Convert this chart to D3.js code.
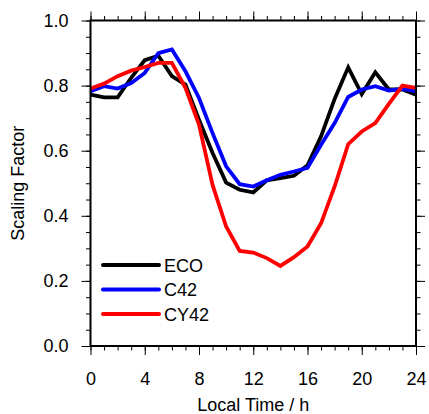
<!DOCTYPE html>
<html>
<head>
<meta charset="utf-8">
<script src="https://cdn.jsdelivr.net/npm/d3@7"></script>
<style>
  html, body { margin: 0; padding: 0; background: #fff; }
  svg { display: block; }
  text { font-family: "Liberation Sans", Arial, Helvetica, sans-serif; fill: #000; }
</style>
</head>
<body>
<svg id="chart" width="429" height="414"></svg>
<script>
// Hourly scaling factors (local time 0..24 h)
const hours = d3.range(0, 25);
const eco  = [0.772, 0.764, 0.764, 0.824, 0.878, 0.892, 0.829, 0.803, 0.695, 0.593, 0.502, 0.480, 0.472,
              0.509, 0.516, 0.523, 0.555, 0.644, 0.759, 0.856, 0.774, 0.841, 0.788, 0.788, 0.772];
const c42  = [0.783, 0.798, 0.791, 0.808, 0.839, 0.900, 0.911, 0.844, 0.762, 0.654, 0.552, 0.497, 0.490,
              0.509, 0.526, 0.536, 0.547, 0.618, 0.685, 0.765, 0.788, 0.798, 0.785, 0.790, 0.783];
const cy42 = [0.791, 0.806, 0.829, 0.846, 0.857, 0.870, 0.870, 0.793, 0.680, 0.495, 0.367, 0.292, 0.287,
              0.270, 0.246, 0.273, 0.306, 0.377, 0.490, 0.620, 0.659, 0.685, 0.744, 0.800, 0.793];
const seriesNames = ["ECO", "C42", "CY42"];
const seriesColors = ["#000000", "#0000ff", "#ff0000"];
const xTicks = [0, 4, 8, 12, 16, 20, 24];
const yTicks = [0.0, 0.2, 0.4, 0.6, 0.8, 1.0];

const series = [eco, c42, cy42];

const svg = d3.select("#chart");
const plotL = 90.5, plotR = 416, plotT = 20.5, plotB = 346;

const x = d3.scaleLinear().domain([0, 24]).range([plotL, plotR]);
const y = d3.scaleLinear().domain([0, 1]).range([plotB, plotT]);

const fontSize = 18;
const majorLen = 9, minorLen = 4.5;

// Minor + major ticks on all four sides, pointing outward
const xMinor = d3.range(0, 25, 1);
const yMinor = d3.range(0, 1.0001, 0.05);

function styleAxis(g) {
  g.select(".domain").remove();
  g.selectAll(".tick line").attr("stroke", "#000").attr("stroke-width", 1);
  g.selectAll(".tick text").style("font-size", fontSize + "px");
}

// Bottom
svg.append("g").attr("transform", `translate(0,${plotB})`)
  .call(d3.axisBottom(x).tickValues(xMinor).tickSize(minorLen).tickFormat(""))
  .call(styleAxis);
svg.append("g").attr("transform", `translate(0,${plotB})`)
  .call(d3.axisBottom(x).tickValues(xTicks).tickSize(majorLen).tickPadding(17).tickFormat(d3.format("d")))
  .call(styleAxis);
// Top
svg.append("g").attr("transform", `translate(0,${plotT})`)
  .call(d3.axisTop(x).tickValues(xMinor).tickSize(minorLen).tickFormat(""))
  .call(styleAxis);
svg.append("g").attr("transform", `translate(0,${plotT})`)
  .call(d3.axisTop(x).tickValues(xTicks).tickSize(majorLen).tickFormat(""))
  .call(styleAxis);
// Left
svg.append("g").attr("transform", `translate(${plotL},0)`)
  .call(d3.axisLeft(y).tickValues(yMinor).tickSize(minorLen).tickFormat(""))
  .call(styleAxis);
svg.append("g").attr("transform", `translate(${plotL},0)`)
  .call(d3.axisLeft(y).tickValues(yTicks).tickSize(majorLen).tickPadding(13).tickFormat(d3.format(".1f")))
  .call(styleAxis);
// Right
svg.append("g").attr("transform", `translate(${plotR},0)`)
  .call(d3.axisRight(y).tickValues(yMinor).tickSize(minorLen).tickFormat(""))
  .call(styleAxis);
svg.append("g").attr("transform", `translate(${plotR},0)`)
  .call(d3.axisRight(y).tickValues(yTicks).tickSize(majorLen).tickFormat(""))
  .call(styleAxis);

// Data lines
const line = d3.line().x((d, i) => x(hours[i])).y(d => y(d));
svg.append("clipPath").attr("id", "plotclip")
  .append("rect").attr("x", plotL).attr("y", plotT).attr("width", plotR - plotL).attr("height", plotB - plotT);

series.forEach((s, k) => {
  svg.append("path")
    .datum(s)
    .attr("d", line)
    .attr("fill", "none")
    .attr("stroke", seriesColors[k])
    .attr("stroke-width", 3.8)
    .attr("stroke-linejoin", "miter")
    .attr("clip-path", "url(#plotclip)");
});

// Frame
svg.append("rect")
  .attr("x", plotL).attr("y", plotT)
  .attr("width", plotR - plotL).attr("height", plotB - plotT)
  .attr("fill", "none").attr("stroke", "#000").attr("stroke-width", 2);

// Legend
const legend = svg.append("g");
seriesNames.forEach((name, k) => {
  const ly = 265 + k * 24.5;
  legend.append("line")
    .attr("x1", 103).attr("x2", 159).attr("y1", ly).attr("y2", ly)
    .attr("stroke", seriesColors[k]).attr("stroke-width", 4).attr("stroke-linecap", "round");
  legend.append("text")
    .attr("x", 164).attr("y", ly + 6.5)
    .style("font-size", fontSize + "px")
    .text(name);
});

// Axis titles
svg.append("text")
  .attr("x", (plotL + plotR) / 2).attr("y", 411)
  .attr("text-anchor", "middle")
  .style("font-size", fontSize + "px")
  .text("Local Time / h");

svg.append("text")
  .attr("transform", `translate(24,${(plotT + plotB) / 2}) rotate(-90)`)
  .attr("text-anchor", "middle")
  .style("font-size", fontSize + "px")
  .text("Scaling Factor");
</script>
</body>
</html>
